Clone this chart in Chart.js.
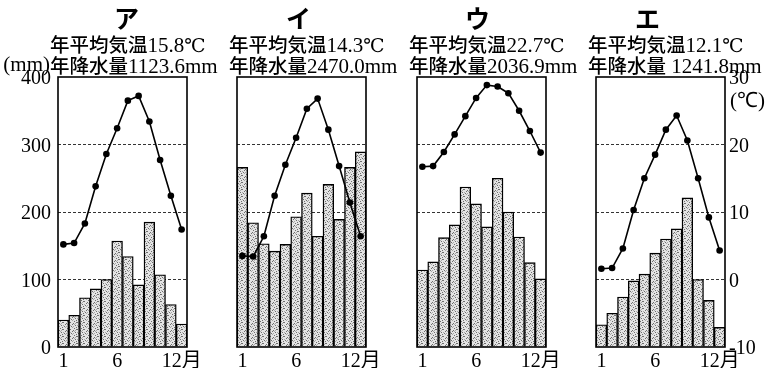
<!DOCTYPE html>
<html>
<head>
<meta charset="utf-8">
<script src="https://cdn.jsdelivr.net/npm/chart.js@4/dist/chart.umd.min.js"></script>
<style>
    body { margin: 0; background: #fff; }
    #wrap { position: relative; width: 766px; height: 368px; overflow: hidden; }
    canvas { position: absolute; top: 0; }
    .t { position: absolute; white-space: pre; color: #000; line-height: 21px; }
    .k { font-family: 'Noto Sans CJK JP', sans-serif; font-size: 19.5px; font-weight: 500; }
    .n { font-family: 'Liberation Serif', serif; font-size: 21px; }
    .c { font-family: 'DejaVu Serif', 'Noto Sans CJK JP', serif; font-size: 19px; }
    .name { font-family: 'Noto Sans CJK JP', sans-serif; font-size: 25px; line-height: 25px; font-weight: 700; width: 40px; text-align: center; }
</style>
</head>
<body>
<div id="wrap"></div>
<script>
// Data
const months = ['1', '2', '3', '4', '5', '6', '7', '8', '9', '10', '11', '12'];
const precipTicks = [0, 100, 200, 300, 400];
const tempTicks = [-10, 0, 10, 20, 30];

const precipA = [40, 47, 73, 86, 100, 157, 134, 92, 185, 107, 63, 34];
const tempA = [5.2, 5.4, 8.3, 13.8, 18.6, 22.4, 26.5, 27.2, 23.4, 17.7, 12.4, 7.4];
const precipI = [266, 184, 153, 142, 152, 193, 228, 164, 241, 189, 266, 289];
const tempI = [3.5, 3.4, 6.4, 12.4, 17.0, 21.0, 25.3, 26.8, 22.2, 16.8, 11.4, 6.4];
const precipU = [114, 126, 162, 181, 237, 212, 178, 250, 200, 163, 125, 101];
const tempU = [16.7, 16.8, 18.9, 21.5, 24.2, 26.9, 28.8, 28.6, 27.6, 25.0, 22.0, 18.8];
const precipE = [33, 50, 74, 98, 108, 139, 160, 175, 221, 100, 69, 29];
const tempE = [1.6, 1.7, 4.6, 10.3, 15.0, 18.5, 22.2, 24.3, 20.6, 15.0, 9.2, 4.3];

const panelNames = ['ア', 'イ', 'ウ', 'エ'];
const annualTemp = ['15.8', '14.3', '22.7', '12.1'];
const annualPrecip = ['1123.6', '2470.0', '2036.9', ' 1241.8'];

const panels = [
    { precip: precipA, temp: tempA },
    { precip: precipI, temp: tempI },
    { precip: precipU, temp: tempU },
    { precip: precipE, temp: tempE }
];

// Layout
const PLOT_LEFT = [58, 237, 417, 596];
const PLOT_W = 129;
const LEFT_W = 58, RIGHT_W = 40, TOP = 77, BOTTOM_H = 21;
const NAME_X = [134, 306, 485, 655];
const SERIF = "'Liberation Serif', 'Noto Sans CJK JP', serif";

const wrap = document.getElementById('wrap');

// stippled fill for the bars
function makeStipple() {
    const tile = document.createElement('canvas');
    tile.width = 7; tile.height = 7;
    const c = tile.getContext('2d');
    c.fillStyle = '#e4e4e4';
    c.fillRect(0, 0, 7, 7);
    c.fillStyle = '#6e6e6e';
    [[0, 0], [3, 1], [5, 3], [1, 4], [4, 6], [6, 5], [2, 2], [6, 0]].forEach(([x, y]) => c.fillRect(x, y, 1, 1));
    c.fillStyle = '#a8a8a8';
    [[2, 5], [5, 1], [0, 3], [3, 4], [4, 2]].forEach(([x, y]) => c.fillRect(x, y, 1, 1));
    return c.createPattern(tile, 'repeat');
}
const stipple = makeStipple();

const boxPlugin = {
    id: 'box',
    afterDraw(chart) {
        const { ctx, chartArea: a } = chart;
        ctx.save();
        ctx.strokeStyle = '#000';
        ctx.lineWidth = 1.6;
        ctx.strokeRect(a.left, a.top, a.right - a.left, a.bottom - a.top);
        ctx.restore();
    }
};

// title line made of kanji / number spans
function addLine(parts, left, top, extra) {
    const d = document.createElement('div');
    d.className = 't';
    parts.forEach(([cls, txt]) => {
        const s = document.createElement('span');
        s.className = cls;
        s.textContent = txt;
        d.appendChild(s);
    });
    d.style.left = left + 'px';
    d.style.top = top + 'px';
    if (extra) Object.assign(d.style, extra);
    wrap.appendChild(d);
}

panels.forEach((p, i) => {
    const cv = document.createElement('canvas');
    cv.width = LEFT_W + PLOT_W + RIGHT_W;
    cv.height = 368;
    cv.style.left = (PLOT_LEFT[i] - LEFT_W) + 'px';
    wrap.appendChild(cv);

    new Chart(cv.getContext('2d'), {
        data: {
            labels: months,
            datasets: [{
                type: 'line',
                data: p.temp,
                yAxisID: 'y2',
                borderColor: '#000',
                borderWidth: 1.6,
                pointRadius: 3.3,
                pointBackgroundColor: '#000',
                pointBorderWidth: 0,
                tension: 0,
                order: 0
            }, {
                type: 'bar',
                data: p.precip,
                yAxisID: 'y',
                backgroundColor: stipple,
                borderColor: '#000',
                borderWidth: 1.4,
                barPercentage: 1,
                categoryPercentage: 1,
                order: 1
            }]
        },
        options: {
            responsive: false,
            animation: false,
            devicePixelRatio: 1,
            layout: { padding: { top: TOP, left: 0, right: 0, bottom: 0 } },
            plugins: { legend: { display: false }, tooltip: { enabled: false } },
            scales: {
                x: {
                    grid: { display: false, drawTicks: false },
                    border: { display: false },
                    afterFit: s => { s.height = BOTTOM_H; },
                    ticks: {
                        autoSkip: false, maxRotation: 0, padding: 3, color: '#000',
                        font: { family: SERIF, size: 20 },
                        callback: (v, idx) => idx === 0 ? '1' : idx === 5 ? '6' : idx === 11 ? '12月' : ''
                    }
                },
                y: {
                    position: 'left',
                    min: precipTicks[0], max: precipTicks[precipTicks.length - 1],
                    afterBuildTicks: s => { s.ticks = precipTicks.map(v => ({ value: v })); },
                    afterFit: s => { s.width = LEFT_W; },
                    grid: {
                        drawTicks: false, lineWidth: 1,
                        color: c => (c.tick.value === 0 || c.tick.value === 400) ? 'rgba(0,0,0,0)' : '#333'
                    },
                    border: { display: false, dash: [3, 2] },
                    ticks: { display: i === 0, padding: 7, labelOffset: 2, color: '#000', font: { family: SERIF, size: 20 } }
                },
                y2: {
                    position: 'right',
                    min: tempTicks[0], max: tempTicks[tempTicks.length - 1],
                    afterBuildTicks: s => { s.ticks = tempTicks.map(v => ({ value: v })); },
                    afterFit: s => { s.width = RIGHT_W; },
                    grid: { display: false, drawTicks: false },
                    border: { display: false },
                    ticks: { display: i === 3, padding: 4, labelOffset: 2, color: '#000', font: { family: SERIF, size: 20 } }
                }
            }
        },
        plugins: [boxPlugin]
    });

    // titles
    addLine([['name', panelNames[i]]], NAME_X[i] - 20, 5);
    addLine([['k', '年平均気温'], ['n', annualTemp[i]], ['c', '℃']], PLOT_LEFT[i] - 8, 33);
    addLine([['k', '年降水量'], ['n', annualPrecip[i] + 'mm']], PLOT_LEFT[i] - 8, 54);
});

addLine([['n', '(mm)']], 0, 54, { width: '50px', textAlign: 'right' });
addLine([['n', '(℃)']], 730, 90);
</script>
</body>
</html>
